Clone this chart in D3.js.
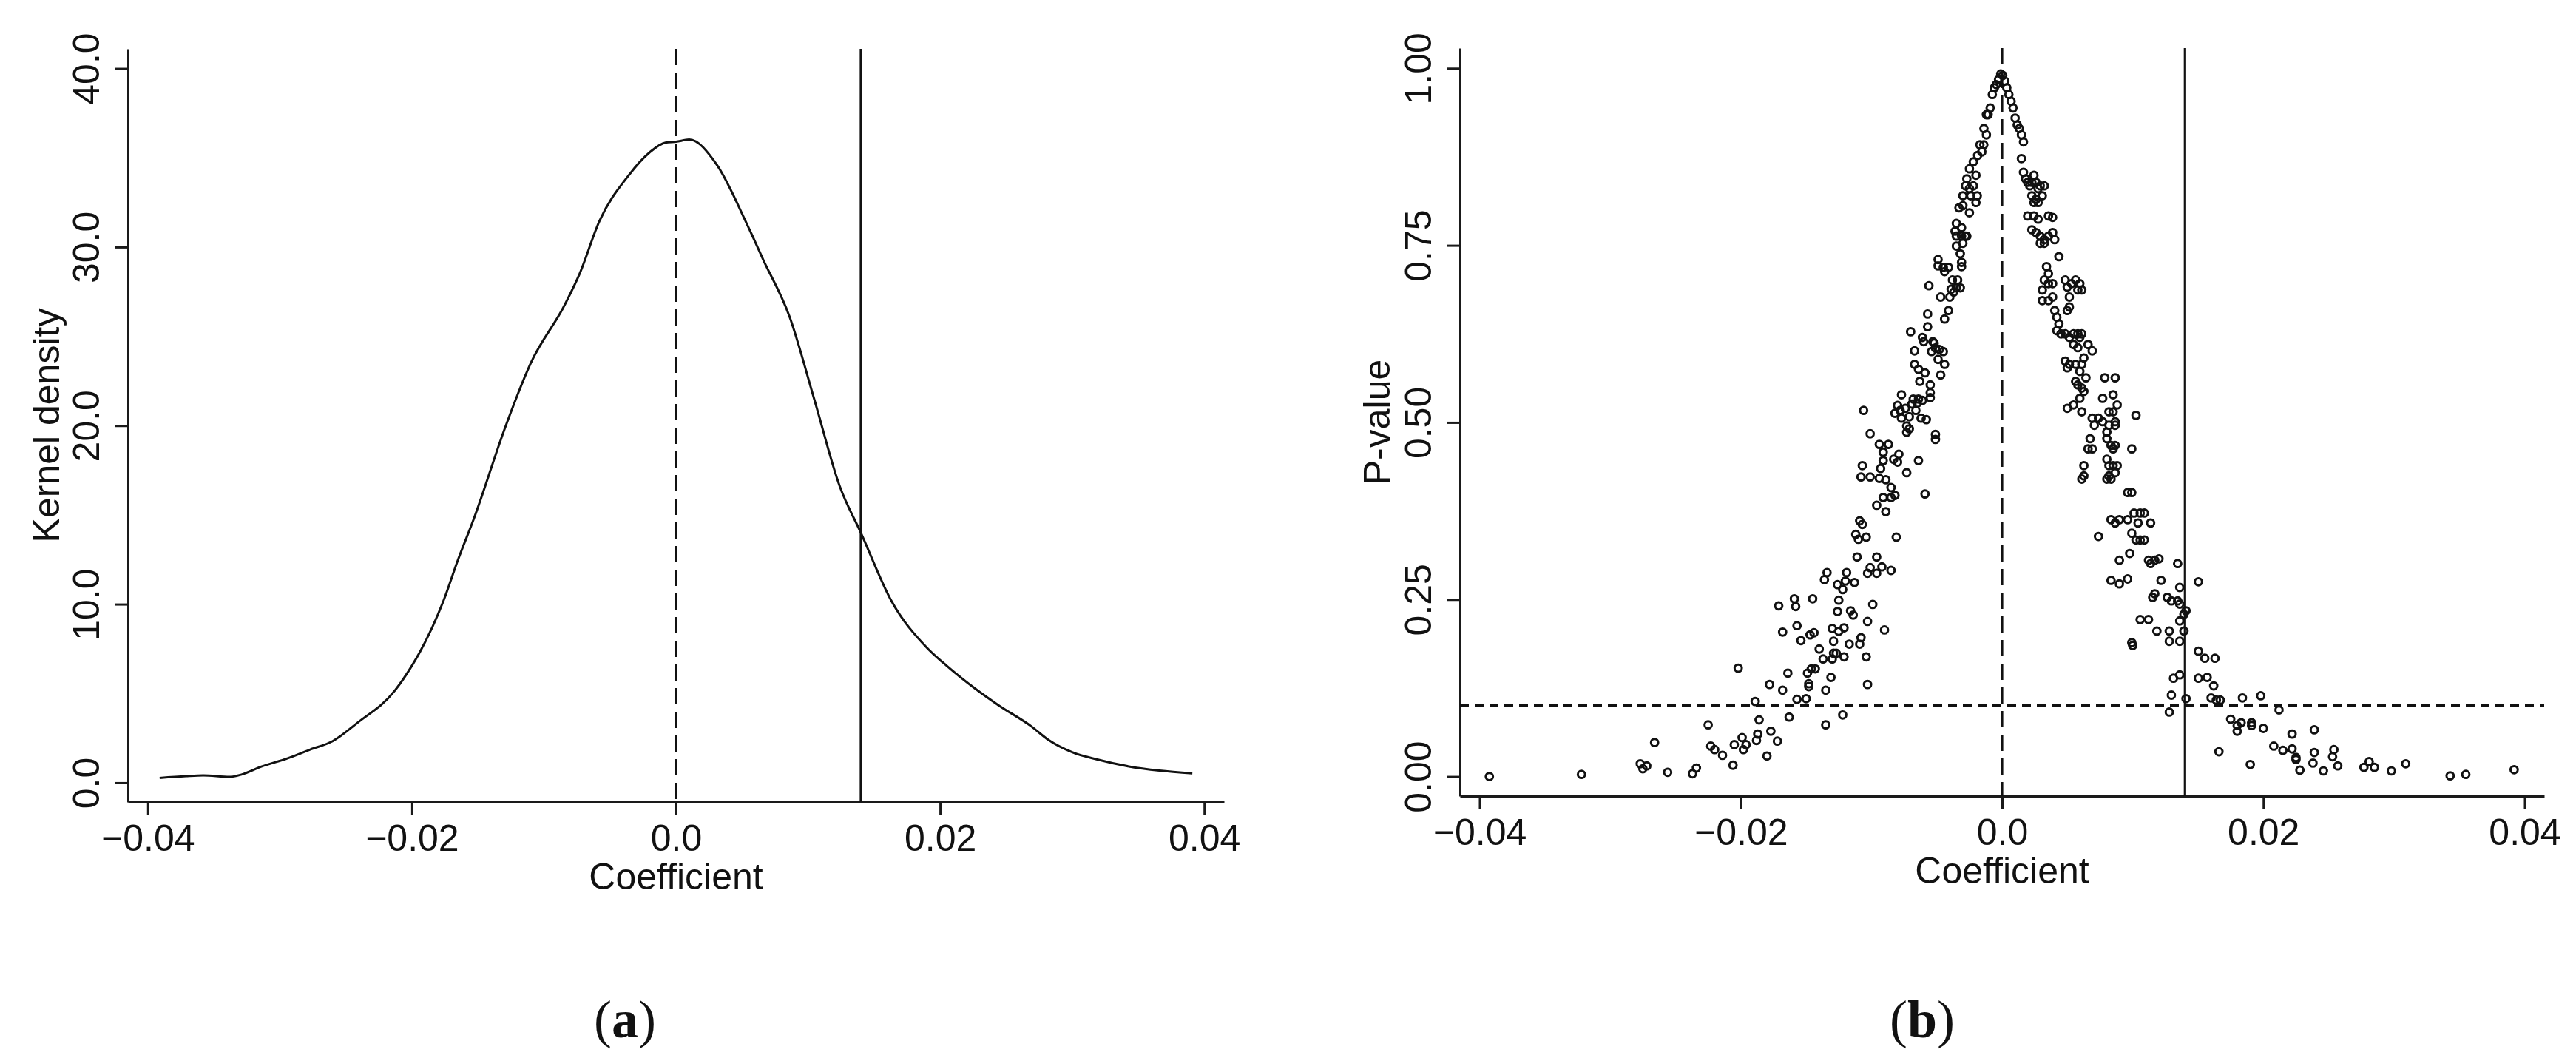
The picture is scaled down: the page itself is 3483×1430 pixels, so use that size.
<!DOCTYPE html>
<html>
<head>
<meta charset="utf-8">
<script src="https://cdn.jsdelivr.net/npm/d3@7"></script>
<style>
  html, body { margin: 0; padding: 0; background: #fff; }
  svg { display: block; }
  .axis text, .lab { font-family: "Liberation Sans", Arial, sans-serif; font-size: 50px; fill: #111; }
  .axis path, .axis line { stroke: #1a1a1a; stroke-width: 3; }
  .panel-tag { font-family: "Liberation Serif", "DejaVu Serif", serif; font-size: 72px; fill: #111; }
</style>
</head>
<body>
<svg id="chart" width="3483" height="1430"></svg>
<script>
"use strict";

// (a) kernel density of the placebo coefficients
const densityCoef = [-0.0391, -0.0371, -0.0358, -0.0338, -0.0329, -0.0314, -0.0294, -0.0277, -0.0260, -0.0241,
  -0.0213, -0.0200, -0.0194, -0.0176, -0.0165, -0.0153, -0.0129, -0.0110, -0.0084, -0.0073,
  -0.0058, -0.0036, -0.0020, -0.0008, 0.0000, 0.0010, 0.0031, 0.0053, 0.0066, 0.0086,
  0.0105, 0.0124, 0.0140, 0.0163, 0.0190, 0.0205, 0.0226, 0.0244, 0.0269, 0.0282,
  0.0300, 0.0319, 0.0343, 0.0366, 0.0391];
const densityValue = [0.27, 0.37, 0.41, 0.33, 0.46, 0.90, 1.37, 1.86, 2.33, 3.37,
  5.15, 6.55, 7.31, 10.2, 12.5, 14.8, 19.97, 23.5, 26.8, 28.5,
  31.45, 34.0, 35.3, 35.85, 35.9, 36.02, 34.6, 31.4, 29.3, 26.1,
  21.4, 16.6, 14.0, 10.2, 7.56, 6.55, 5.30, 4.35, 3.16, 2.40,
  1.71, 1.30, 0.91, 0.68, 0.53];

// (b) placebo coefficient and its p-value
const pointsLowLeft = [[-0.03925,0.000],[-0.0322,0.003],[-0.0277,0.018],[-0.0275,0.011],[-0.0272,0.015],[-0.0266,0.048],
  [-0.0256,0.006],[-0.0237,0.004],[-0.0234,0.012],[-0.0225,0.073],[-0.0223,0.043],[-0.0220,0.038],[-0.0214,0.030],
  [-0.0206,0.016],[-0.0205,0.045],[-0.0199,0.055],[-0.0198,0.038],[-0.0196,0.045],[-0.0202,0.153],[-0.0189,0.106],
  [-0.0186,0.080],[-0.0187,0.060],[-0.0188,0.051],[-0.0180,0.029],[-0.0177,0.064],[-0.0172,0.050]];
const pointsMidLeft = [[-0.0171,0.241],[-0.0158,0.240],[-0.0159,0.251],[-0.0145,0.251],[-0.0168,0.204],[-0.0157,0.213],
  [-0.0154,0.192],[-0.0164,0.146],[-0.0178,0.130],[-0.0168,0.122],[-0.0163,0.084],[-0.0157,0.109],[-0.0150,0.110],
  [-0.0148,0.127],[-0.0148,0.131],[-0.0149,0.146],[-0.0146,0.152],[-0.0143,0.152],[-0.0147,0.200],[-0.0144,0.203],
  [-0.0140,0.180],[-0.0137,0.166],[-0.0135,0.122],[-0.0135,0.073],[-0.0131,0.140],[-0.0130,0.166],[-0.0130,0.209],
  [-0.0129,0.174],[-0.0127,0.174],[-0.0129,0.191],[-0.0125,0.205],[-0.0126,0.233],[-0.0125,0.249],[-0.0126,0.271],
  [-0.0136,0.278],[-0.0134,0.288],[-0.0122,0.264],[-0.0121,0.169],[-0.0121,0.210],[-0.0122,0.087],[-0.0120,0.276],
  [-0.0119,0.288],[-0.0116,0.234],[-0.0114,0.228],[-0.0113,0.274],[-0.0117,0.187],[-0.0111,0.310],[-0.0112,0.342],
  [-0.0110,0.335],[-0.0109,0.361],[-0.0107,0.356],[-0.0108,0.196],[-0.0109,0.187],[-0.0104,0.338],[-0.0103,0.287],
  [-0.0103,0.219],[-0.0104,0.169],[-0.0103,0.130],[-0.0101,0.295],[-0.0099,0.243],[-0.0096,0.310],[-0.0096,0.287],
  [-0.0092,0.296],[-0.0090,0.207],[-0.0085,0.291],[-0.0081,0.338]];
const pointsUpLeft = [[-0.0106,0.517],[-0.0101,0.484],[-0.0107,0.439],[-0.0108,0.423],[-0.0101,0.423],[-0.0094,0.469],
  [-0.0087,0.469],[-0.0091,0.458],[-0.0093,0.435],[-0.0091,0.446],[-0.0094,0.421],[-0.0089,0.419],[-0.0085,0.408],
  [-0.0096,0.383],[-0.0089,0.374],[-0.0091,0.394],[-0.0085,0.394],[-0.0082,0.397],[-0.0080,0.444],[-0.0083,0.448],
  [-0.0079,0.455],[-0.0073,0.429],[-0.0064,0.446],[-0.0082,0.513],[-0.0080,0.524],[-0.0078,0.517],[-0.0077,0.539],
  [-0.0077,0.506],[-0.0074,0.520],[-0.0073,0.495],[-0.0073,0.486],[-0.0071,0.491],[-0.0071,0.508],[-0.0069,0.526],
  [-0.0068,0.533],[-0.0066,0.517],[-0.0064,0.533],[-0.0065,0.527],[-0.0062,0.506],[-0.0061,0.531],[-0.0058,0.504],
  [-0.0070,0.628],[-0.0067,0.601],[-0.0067,0.582],[-0.0064,0.575],[-0.0063,0.558],[-0.0059,0.570],[-0.0061,0.620],
  [-0.0060,0.614],[-0.0057,0.635],[-0.0057,0.653],[-0.0056,0.693],[-0.0054,0.600],[-0.0053,0.614],[-0.0055,0.553],
  [-0.0055,0.542],[-0.0055,0.535],[-0.0059,0.399],[-0.0052,0.612],[-0.0051,0.605],[-0.0051,0.476],[-0.0051,0.483],
  [-0.0049,0.589],[-0.0048,0.603],[-0.0047,0.677],[-0.0047,0.567],[-0.0045,0.600],[-0.0044,0.582],[-0.0049,0.730],
  [-0.0049,0.721],[-0.0045,0.719],[-0.0044,0.713],[-0.0041,0.719],[-0.0044,0.646],[-0.0041,0.658],[-0.0040,0.677],
  [-0.0039,0.688],[-0.0037,0.684],[-0.0035,0.690],[-0.0038,0.701],[-0.0034,0.701],[-0.0032,0.690],[-0.0035,0.749],
  [-0.0036,0.770],[-0.0035,0.781],[-0.0035,0.763],[-0.0032,0.738],[-0.0033,0.803],[-0.0031,0.775],[-0.0031,0.726]];
const pointsPeak = [[-0.00075,0.963],[-0.00059,0.9725],[-0.00044,0.977],[-0.00027,0.984],[-0.0001,0.992],[0.00005,0.990],
  [0.0002,0.982],[0.00036,0.9725],[0.00052,0.963],[0.00069,0.9535],[0.00084,0.944],[-0.00091,0.944],[-0.00107,0.9345],
  [-0.0012,0.9345],[-0.00139,0.915],[-0.0012,0.906],[-0.00155,0.882],[-0.0017,0.892],[-0.0014,0.892],[-0.00187,0.877],
  [-0.0022,0.868],[-0.0025,0.858],[-0.002,0.849],[-0.0027,0.844],[-0.0022,0.834],[-0.0025,0.830],[-0.0028,0.834],
  [-0.003,0.820],[-0.0024,0.820],[-0.002,0.8105],[-0.0019,0.820],[-0.003,0.806],[-0.0025,0.796],[-0.0031,0.763],
  [-0.0028,0.763],[-0.003,0.753],[-0.0027,0.763],[-0.0031,0.720]];
const pointsUpRight = [[0.0010,0.9297],[0.00116,0.920],[0.00132,0.915],[0.00148,0.906],[0.00164,0.896],[0.00148,0.8725],
  [0.00164,0.853],[0.0018,0.844],[0.00196,0.839],[0.00212,0.834],[0.00228,0.839],[0.00244,0.849],[0.0026,0.839],
  [0.00276,0.830],[0.00292,0.834],[0.00308,0.820],[0.00323,0.834],[0.00228,0.820],[0.0026,0.815],[0.00276,0.8105],
  [0.00244,0.8105],[0.00196,0.7915],[0.00244,0.7915],[0.00276,0.787],[0.00355,0.7915],[0.00387,0.7895],[0.00228,0.772],
  [0.0026,0.768],[0.00292,0.763],[0.00323,0.758],[0.00355,0.763],[0.00387,0.768],[0.00403,0.758],[0.00292,0.753],
  [0.00323,0.753],[0.00435,0.734],[0.0034,0.720],[0.00355,0.710],[0.00323,0.701],[0.00355,0.696],[0.00387,0.696],
  [0.00308,0.687],[0.00387,0.677],[0.00483,0.701],[0.00499,0.691],[0.00531,0.696],[0.00563,0.701],[0.00595,0.696],
  [0.0061,0.687],[0.0058,0.687],[0.00515,0.677],[0.00308,0.672],[0.00355,0.672],[0.00403,0.658],[0.00419,0.6485],
  [0.00435,0.639],[0.00419,0.6295],[0.00451,0.625],[0.00515,0.663],[0.00499,0.658],[0.00483,0.625],[0.00515,0.620],
  [0.00547,0.625],[0.0058,0.625],[0.0061,0.625],[0.00595,0.620],[0.00547,0.610],[0.0058,0.6055],[0.00658,0.610],
  [0.0069,0.601],[0.00483,0.5866],[0.00499,0.577],[0.00515,0.582],[0.00563,0.582],[0.0061,0.582],[0.00626,0.591],
  [0.00595,0.572],[0.00642,0.563],[0.00563,0.558],[0.0058,0.553],[0.0061,0.5485],[0.00626,0.5437],[0.00595,0.534]];
const pointsMidRight = [[0.00786,0.563],[0.00866,0.563],[0.0085,0.539],[0.0077,0.534],[0.00881,0.5247],[0.0085,0.515],
  [0.00818,0.515],[0.00866,0.501],[0.00499,0.520],[0.00547,0.5247],[0.0061,0.515],[0.01025,0.510],[0.0069,0.506],
  [0.00738,0.506],[0.00706,0.496],[0.0077,0.501],[0.00802,0.4865],[0.00818,0.496],[0.00866,0.496],[0.00674,0.477],
  [0.0069,0.4627],[0.00658,0.4627],[0.00802,0.477],[0.00834,0.4675],[0.0085,0.4627],[0.00866,0.4675],[0.00993,0.4627],
  [0.00802,0.448],[0.00818,0.439],[0.0085,0.439],[0.00881,0.439],[0.00626,0.439],[0.0061,0.420],[0.00626,0.4245],
  [0.00802,0.420],[0.00818,0.4245],[0.00834,0.420],[0.00866,0.429],[0.00961,0.401],[0.00993,0.401],[0.00834,0.3627],
  [0.00866,0.358],[0.00898,0.3627],[0.00961,0.3627],[0.0101,0.372],[0.01057,0.372],[0.01089,0.372],[0.01137,0.358],
  [0.01041,0.358],[0.00993,0.3436],[0.01025,0.334],[0.01057,0.334],[0.01089,0.334],[0.00738,0.339],[0.00898,0.3054],
  [0.00977,0.315],[0.01121,0.3054],[0.01137,0.3007],[0.01169,0.3054],[0.01201,0.3074],[0.01344,0.3007],[0.0136,0.267],
  [0.00834,0.277],[0.00898,0.272],[0.00961,0.279],[0.01217,0.277],[0.01503,0.275],[0.01169,0.258],[0.01153,0.253],
  [0.01265,0.253],[0.01296,0.248],[0.01344,0.248],[0.0136,0.2435],[0.01392,0.229],[0.01408,0.234],[0.0136,0.2197],
  [0.01392,0.2054],[0.0136,0.191],[0.01057,0.2216],[0.01121,0.2216],[0.01185,0.2054],[0.0128,0.2054],[0.0128,0.191],
  [0.00993,0.189],[0.0100,0.185],[0.01503,0.177],[0.01552,0.167],[0.0163,0.167],[0.01503,0.1388],[0.01312,0.1388],
  [0.01296,0.115],[0.0136,0.1435],[0.01408,0.110],[0.0128,0.091]];
const pointsLowRight = [[0.0157,0.140],[0.0162,0.128],[0.0160,0.111],[0.0164,0.108],[0.0167,0.108],[0.0166,0.035],
  [0.0175,0.081],[0.0180,0.072],[0.0180,0.064],[0.0183,0.076],[0.0191,0.072],[0.0191,0.076],[0.0184,0.111],[0.0190,0.017],
  [0.0198,0.114],[0.0200,0.068],[0.0212,0.094],[0.0208,0.043],[0.0215,0.037],[0.0222,0.060],[0.0222,0.039],[0.0225,0.027],
  [0.0225,0.024],[0.0228,0.009],[0.0239,0.066],[0.0239,0.034],[0.0238,0.019],[0.0246,0.008],[0.0253,0.028],[0.0254,0.038],
  [0.0257,0.015],[0.0277,0.013],[0.0281,0.021],[0.0285,0.013],[0.0298,0.008],[0.0309,0.018],[0.0343,0.001],[0.0355,0.003],
  [0.0392,0.0097]];
const scatterPoints = [].concat(pointsLowLeft, pointsMidLeft, pointsUpLeft, pointsPeak, pointsUpRight, pointsMidRight, pointsLowRight);

// ticks and reference lines
const xTicks = [-0.04, -0.02, 0, 0.02, 0.04];
const xTickLabels = ["\u22120.04", "\u22120.02", "0.0", "0.02", "0.04"];
const densityTicks = [0, 10, 20, 30, 40];
const densityTickLabels = ["0.0", "10.0", "20.0", "30.0", "40.0"];
const pTicks = [0, 0.25, 0.5, 0.75, 1];
const pTickLabels = ["0.00", "0.25", "0.50", "0.75", "1.00"];
const zeroCoef = 0;
const trueCoef = 0.014;
const pCutoff = 0.10;

const svg = d3.select("#chart");

/**
 * Draws the axes frame of one panel and returns its scales.
 */
function drawFrame(box, yDomain, yTicks, yLabels, yTitle, tag) {
  const x = d3.scaleLinear().domain([-0.0415, 0.0415]).range([box.left, box.right]);
  const y = d3.scaleLinear().domain(yDomain).range([box.bottom, box.top]);

  svg.append("g")
    .attr("class", "axis")
    .attr("transform", "translate(0," + box.bottom + ")")
    .call(d3.axisBottom(x).tickValues(xTicks).tickFormat((d, i) => xTickLabels[i])
      .tickSize(17).tickSizeOuter(0).tickPadding(13));

  const gy = svg.append("g")
    .attr("class", "axis")
    .attr("transform", "translate(" + box.left + ",0)")
    .call(d3.axisLeft(y).tickValues(yTicks).tickFormat((d, i) => yLabels[i])
      .tickSize(17).tickSizeOuter(0));
  // Stata style: y tick labels turned on their side
  gy.selectAll(".tick text")
    .attr("transform", "rotate(-90)")
    .attr("x", 0)
    .attr("y", -39)
    .attr("dy", null)
    .attr("text-anchor", "middle");

  svg.append("text")
    .attr("class", "lab")
    .attr("transform", "translate(" + box.titleX + "," + (box.top + box.bottom) / 2 + ") rotate(-90)")
    .attr("text-anchor", "middle")
    .text(yTitle);

  svg.append("text")
    .attr("class", "lab")
    .attr("x", x(0))
    .attr("y", box.bottom + 118)
    .attr("text-anchor", "middle")
    .text("Coefficient");

  const t = svg.append("text")
    .attr("class", "panel-tag")
    .attr("x", box.tagX)
    .attr("y", 1402)
    .attr("text-anchor", "middle");
  t.append("tspan").text("(");
  t.append("tspan").attr("font-weight", "bold").text(tag);
  t.append("tspan").text(")");

  return { x: x, y: y };
}

function vLine(s, box, value, dash) {
  svg.append("line")
    .attr("x1", s.x(value)).attr("x2", s.x(value))
    .attr("y1", box.top).attr("y2", box.bottom)
    .attr("stroke", "#111")
    .attr("stroke-width", 3.2)
    .attr("stroke-dasharray", dash);
}

// ---- panel (a)
const boxA = { left: 173, right: 1655, top: 66, bottom: 1084, titleX: 80, tagX: 845 };
const sa = drawFrame(boxA, [-1.08, 41.1], densityTicks, densityTickLabels, "Kernel density", "a");
vLine(sa, boxA, zeroCoef, "22,10");
vLine(sa, boxA, trueCoef, null);

const densityLine = d3.line()
  .x((d, i) => sa.x(densityCoef[i]))
  .y(d => sa.y(d))
  .curve(d3.curveMonotoneX);
svg.append("path")
  .attr("d", densityLine(densityValue))
  .attr("fill", "none")
  .attr("stroke", "#111")
  .attr("stroke-width", 3);

// ---- panel (b)
const boxB = { left: 1974, right: 3440, top: 65, bottom: 1076, titleX: 1879, tagX: 2599 };
const sb = drawFrame(boxB, [-0.0276, 1.0285], pTicks, pTickLabels, "P-value", "b");
vLine(sb, boxB, zeroCoef, "22,10");
vLine(sb, boxB, trueCoef, null);
svg.append("line")
  .attr("x1", boxB.left).attr("x2", boxB.right)
  .attr("y1", sb.y(pCutoff)).attr("y2", sb.y(pCutoff))
  .attr("stroke", "#111")
  .attr("stroke-width", 3.5)
  .attr("stroke-dasharray", "12,8");

svg.append("g")
  .selectAll("circle")
  .data(scatterPoints)
  .enter()
  .append("circle")
  .attr("cx", d => sb.x(d[0]))
  .attr("cy", d => sb.y(d[1]))
  .attr("r", 4.9)
  .attr("fill", "none")
  .attr("stroke", "#111")
  .attr("stroke-width", 3);
</script>
</body>
</html>
